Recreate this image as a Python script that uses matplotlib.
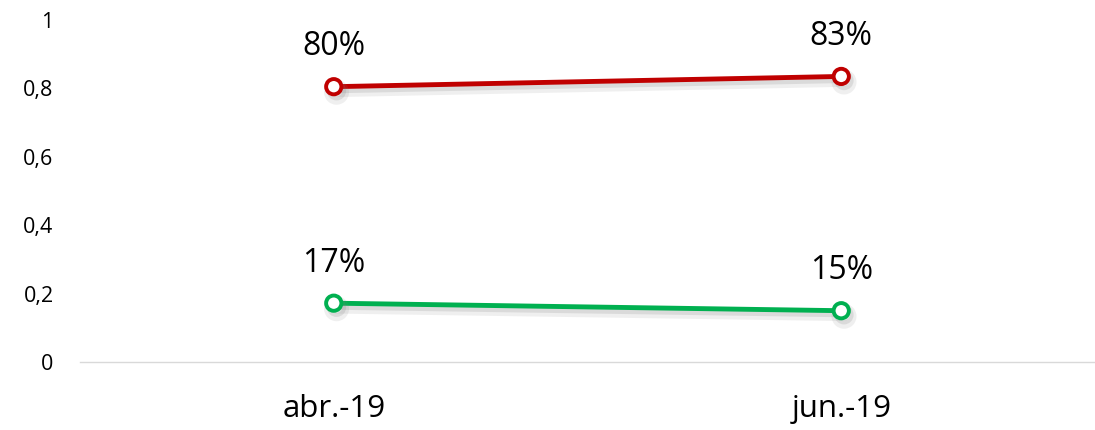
import matplotlib
matplotlib.use("Agg")
import matplotlib.pyplot as plt
import matplotlib.patheffects as pe

plt.rcParams['font.family'] = ['Open Sans', 'DejaVu Sans']

categorias = ['abr.-19', 'jun.-19']
serie_vermelha = [0.805, 0.835]
serie_verde = [0.172, 0.15]
rotulos_vermelha = ['80%', '83%']
rotulos_verde = ['17%', '15%']

fig = plt.figure(figsize=(10.95, 4.30), dpi=100)
ax = fig.add_axes([80 / 1095, 1 - 362 / 430, 1 - 80 / 1095, (362 - 20) / 430])

x = list(range(len(categorias)))

sombra = [pe.SimpleLineShadow(offset=(2, -4), shadow_color='gray', alpha=0.12, linewidth=7),
          pe.SimpleLineShadow(offset=(2, -3), shadow_color='gray', alpha=0.18),
          pe.Normal()]

for valores, rotulos, cor in [(serie_vermelha, rotulos_vermelha, '#C00000'),
                              (serie_verde, rotulos_verde, '#00B050')]:
    ax.plot(x, valores, color=cor, linewidth=3.5, marker='o', markersize=11,
            markerfacecolor='white', markeredgecolor=cor, markeredgewidth=2.8,
            path_effects=sombra, solid_capstyle='round', zorder=3)
    for xi, v, r in zip(x, valores, rotulos):
        ax.annotate(r, (xi, v), xytext=(0, 17), textcoords='offset points',
                    ha='center', va='bottom', fontsize=23, color='black')

ax.set_xlim(-0.5, 1.5)
ax.set_ylim(0, 1)
ax.set_xticks(x)
ax.set_xticklabels(categorias, fontsize=22.5)
ax.set_yticks([0, 0.2, 0.4, 0.6, 0.8, 1])
ax.set_yticklabels(['0', '0,2', '0,4', '0,6', '0,8', '1'], fontsize=15.5)
ax.tick_params(axis='both', length=0)
ax.tick_params(axis='y', pad=19)
ax.tick_params(axis='x', pad=23)

for lado in ['top', 'right', 'left']:
    ax.spines[lado].set_visible(False)
ax.spines['bottom'].set_color('#D9D9D9')
ax.spines['bottom'].set_linewidth(1)

fig.savefig('out.png', dpi=100)
